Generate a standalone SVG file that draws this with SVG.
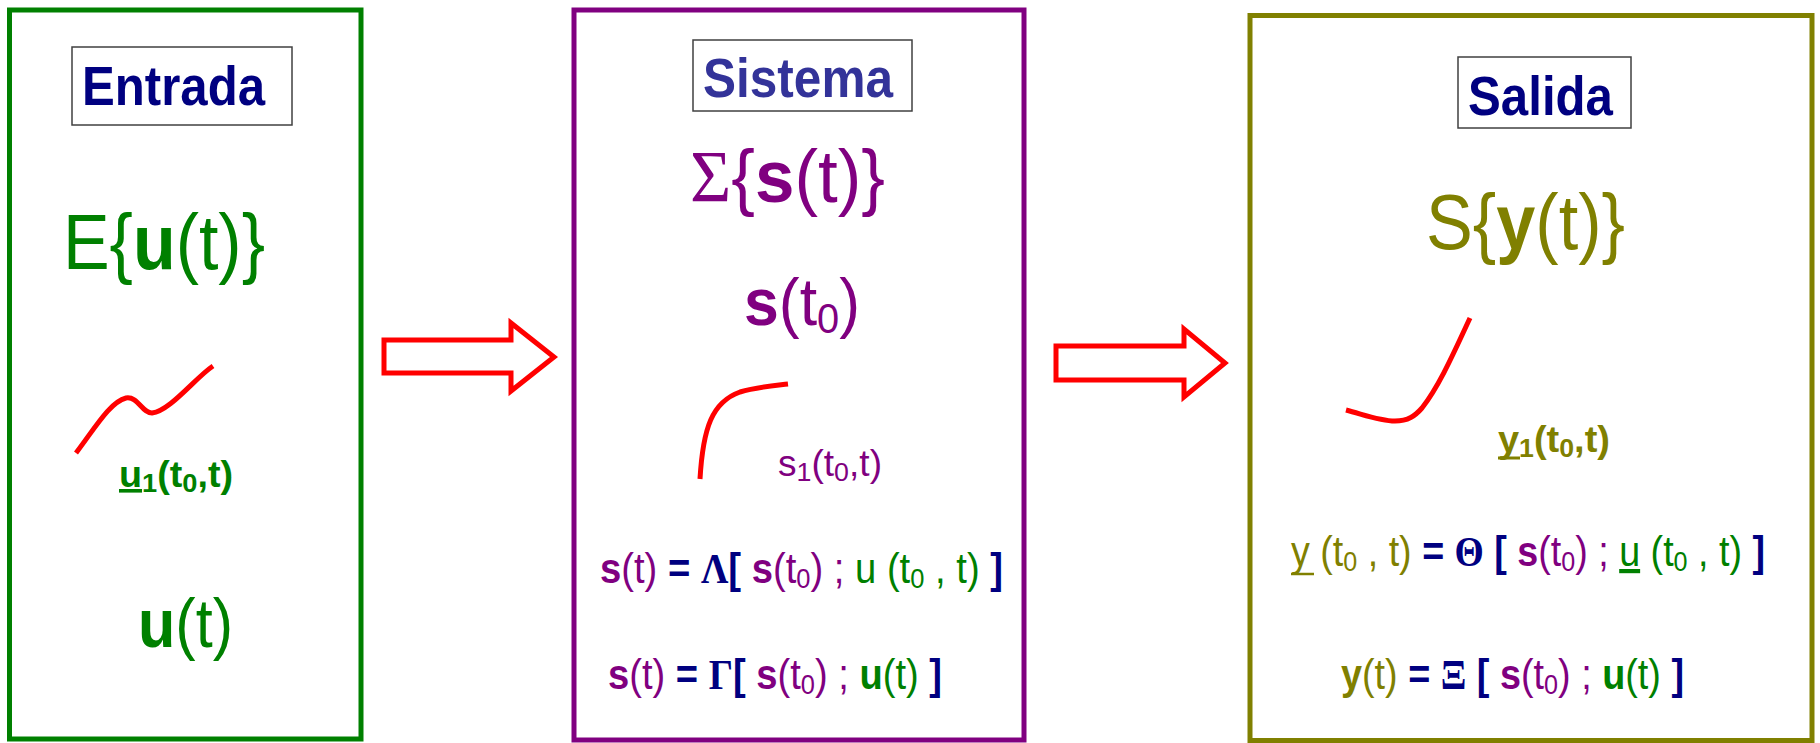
<svg xmlns="http://www.w3.org/2000/svg" width="1820" height="743" viewBox="0 0 1820 743">
<style>
text{font-family:"Liberation Sans",Arial,sans-serif;}
.b{font-weight:bold;}
.serif{font-family:"Liberation Serif","Times New Roman",serif;}
.g{fill:#008000;}
.p{fill:#800080;}
.o{fill:#808000;}
.n{fill:#000080;}
.frame{fill:#ffffff;stroke-width:5;}
.label{fill:#ffffff;stroke:#404040;stroke-width:1.5;}
.curve{fill:none;stroke:#ff0000;stroke-width:5;}
.arrow{fill:#ffffff;stroke:#ff0000;stroke-width:5;stroke-linejoin:miter;}
.ul{text-decoration:underline;text-decoration-skip-ink:none;}
.uly{stroke:#808000;}
</style>
<rect width="1820" height="743" fill="#ffffff"/>

<g id="node-entrada">
  <rect class="frame" x="9.5" y="10" width="351.5" height="729" stroke="#008000"/>
  <rect class="label" x="72" y="47" width="220" height="78"/>
  <text class="b n" x="82" y="105" font-size="55" textLength="183" lengthAdjust="spacingAndGlyphs">Entrada</text>
  <text class="g" x="63" y="269" font-size="78" textLength="202" lengthAdjust="spacingAndGlyphs">E{<tspan class="b">u</tspan>(t)}</text>
  <path class="curve" d="M76,453 C95,428 110,402 126,398 C138,396 142,413 152,413 C170,411 195,378 213,366"/>
  <text class="g b" x="119" y="487" font-size="36" textLength="114" lengthAdjust="spacingAndGlyphs"><tspan class="ul">u</tspan><tspan font-size="26" dy="5">1</tspan><tspan dy="-5">(t</tspan><tspan font-size="26" dy="5">0</tspan><tspan dy="-5">,t)</tspan></text>
  <text class="g" x="138" y="647" font-size="68" textLength="95" lengthAdjust="spacingAndGlyphs"><tspan class="b">u</tspan>(t)</text>
</g>

<g id="node-sistema">
  <rect class="frame" x="574" y="10" width="450" height="730" stroke="#800080"/>
  <rect class="label" x="693" y="40" width="219" height="71"/>
  <text class="b" fill="#333399" x="703" y="97" font-size="55" textLength="190" lengthAdjust="spacingAndGlyphs">Sistema</text>
  <text class="p" x="690" y="202" font-size="74" textLength="195" lengthAdjust="spacingAndGlyphs"><tspan class="serif">Σ</tspan>{<tspan class="b">s</tspan>(t)}</text>
  <text class="p" x="744" y="325" font-size="66" textLength="116" lengthAdjust="spacingAndGlyphs"><tspan class="b">s</tspan>(t<tspan font-size="42" dy="8">0</tspan><tspan dy="-8">)</tspan></text>
  <path class="curve" d="M700,479 C703,428 712,402 740,392 C756,387 770,386 788,384"/>
  <text class="p" x="778" y="476" font-size="36" textLength="104" lengthAdjust="spacingAndGlyphs">s<tspan font-size="26" dy="5">1</tspan><tspan dy="-5">(t</tspan><tspan font-size="26" dy="5">0</tspan><tspan dy="-5">,t)</tspan></text>
  <text xml:space="preserve" x="600" y="583" font-size="42" textLength="403" lengthAdjust="spacingAndGlyphs"><tspan class="p b">s</tspan><tspan class="p">(t)</tspan><tspan class="n b"> = </tspan><tspan class="n b serif">Λ</tspan><tspan class="n b">[ </tspan><tspan class="p b">s</tspan><tspan class="p">(t</tspan><tspan class="p" font-size="28" dy="5">0</tspan><tspan class="p" dy="-5">) ; </tspan><tspan class="g">u (t</tspan><tspan class="g" font-size="28" dy="5">0</tspan><tspan class="g" dy="-5"> , t) </tspan><tspan class="n b">]</tspan></text>
  <text xml:space="preserve" x="608" y="689" font-size="42" textLength="334" lengthAdjust="spacingAndGlyphs"><tspan class="p b">s</tspan><tspan class="p">(t)</tspan><tspan class="n b"> = </tspan><tspan class="n b serif">Γ</tspan><tspan class="n b">[ </tspan><tspan class="p b">s</tspan><tspan class="p">(t</tspan><tspan class="p" font-size="28" dy="5">0</tspan><tspan class="p" dy="-5">) ; </tspan><tspan class="g b">u</tspan><tspan class="g">(t) </tspan><tspan class="n b">]</tspan></text>
</g>

<g id="node-salida">
  <rect class="frame" x="1250" y="15.5" width="562" height="725" stroke="#808000"/>
  <rect class="label" x="1458" y="57" width="173" height="71"/>
  <text class="b n" x="1468" y="115" font-size="55" textLength="145" lengthAdjust="spacingAndGlyphs">Salida</text>
  <text class="o" x="1426" y="249" font-size="78" textLength="199" lengthAdjust="spacingAndGlyphs">S{<tspan class="b">y</tspan>(t)}</text>
  <path class="curve" d="M1346,410 C1365,415 1380,421 1395,421 C1408,421 1415,416 1422,408 C1440,385 1455,350 1470,318"/>
  <text class="o b" x="1498" y="452" font-size="37" textLength="112" lengthAdjust="spacingAndGlyphs">y<tspan font-size="26" dy="5">1</tspan><tspan dy="-5">(t</tspan><tspan font-size="26" dy="5">0</tspan><tspan dy="-5">,t)</tspan></text>
  <line class="uly" x1="1498" y1="458" x2="1520" y2="458" stroke-width="3"/>
  <text xml:space="preserve" x="1291" y="566" font-size="42" textLength="474" lengthAdjust="spacingAndGlyphs"><tspan class="o">y</tspan><tspan class="o"> (t</tspan><tspan class="o" font-size="28" dy="5">0</tspan><tspan class="o" dy="-5"> , t) </tspan><tspan class="n b">= </tspan><tspan class="n b serif">Θ</tspan><tspan class="n b"> [ </tspan><tspan class="p b">s</tspan><tspan class="p">(t</tspan><tspan class="p" font-size="28" dy="5">0</tspan><tspan class="p" dy="-5">) ; </tspan><tspan class="g ul">u</tspan><tspan class="g"> (t</tspan><tspan class="g" font-size="28" dy="5">0</tspan><tspan class="g" dy="-5"> , t) </tspan><tspan class="n b">]</tspan></text>
  <line class="uly" x1="1291" y1="574" x2="1314" y2="574" stroke-width="2.5"/>
  <text xml:space="preserve" x="1341" y="689" font-size="42" textLength="343" lengthAdjust="spacingAndGlyphs"><tspan class="o b">y</tspan><tspan class="o">(t) </tspan><tspan class="n b">= </tspan><tspan class="n b serif">Ξ</tspan><tspan class="n b"> [ </tspan><tspan class="p b">s</tspan><tspan class="p">(t</tspan><tspan class="p" font-size="28" dy="5">0</tspan><tspan class="p" dy="-5">) ; </tspan><tspan class="g b">u</tspan><tspan class="g">(t) </tspan><tspan class="n b">]</tspan></text>
</g>

<g id="connectors">
  <polygon id="arrow-entrada-sistema" class="arrow" points="384,340 511,340 511,323 554,357 511,391 511,373 384,373"/>
  <polygon id="arrow-sistema-salida" class="arrow" points="1056,346 1184,346 1184,329 1225,363 1184,397 1184,380 1056,380"/>
</g>
</svg>
